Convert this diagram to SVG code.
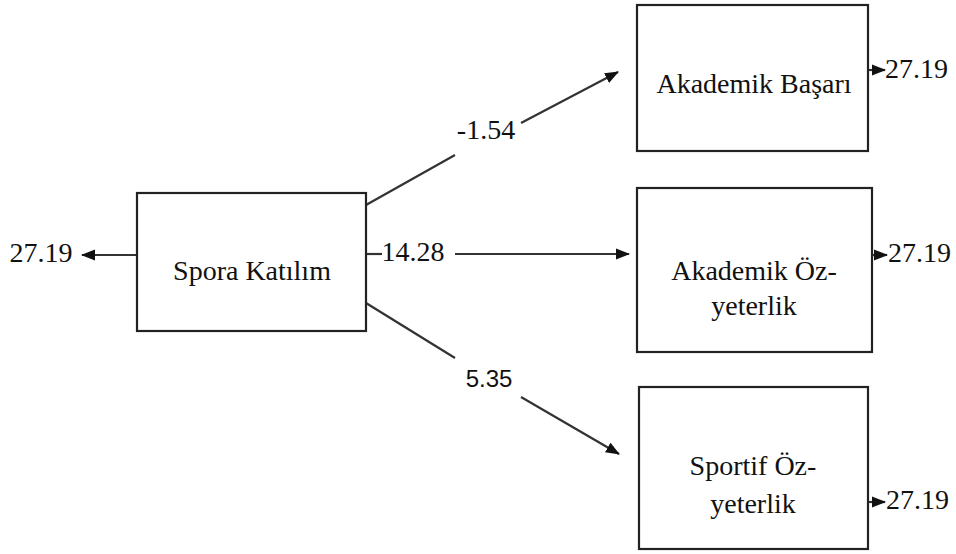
<svg xmlns="http://www.w3.org/2000/svg" width="956" height="554" viewBox="0 0 956 554">
<style>
.box{fill:#fff;stroke:#222;stroke-width:2.2}
.t{font-family:"Liberation Serif","Times New Roman",serif;font-size:28px;fill:#111}
.s{font-family:"Liberation Sans",Arial,sans-serif;font-size:24px;fill:#111}
.c{stroke:#333;stroke-width:2.2;fill:none}
</style>
<defs>
<marker id="ah" markerUnits="userSpaceOnUse" markerWidth="14" markerHeight="12" refX="13" refY="5.5" orient="auto" viewBox="0 0 14 11">
<path d="M0,0 L14,5.5 L0,11 z" fill="#111"/>
</marker>
</defs>
<rect width="956" height="554" fill="#fff"/>
<g id="connectors">
<line class="c" x1="137" y1="255" x2="82" y2="255" marker-end="url(#ah)"/>
<line class="c" x1="366" y1="205" x2="455" y2="155"/>
<line class="c" x1="521" y1="123" x2="618" y2="72" marker-end="url(#ah)"/>
<line class="c" x1="366" y1="254" x2="382" y2="254"/>
<line class="c" x1="455" y1="254" x2="629" y2="254" marker-end="url(#ah)"/>
<line class="c" x1="366" y1="303" x2="455" y2="358"/>
<line class="c" x1="521" y1="397" x2="619" y2="454" marker-end="url(#ah)"/>
<line class="c" x1="868" y1="70" x2="885" y2="70" marker-end="url(#ah)"/>
<line class="c" x1="872" y1="255" x2="887" y2="255" marker-end="url(#ah)"/>
<line class="c" x1="868" y1="502" x2="885" y2="502" marker-end="url(#ah)"/>
<text class="t" x="486" y="139" text-anchor="middle">-1.54</text>
<text class="t" x="413" y="261" text-anchor="middle">14.28</text>
<text class="s" x="489" y="387" text-anchor="middle">5.35</text>
<text class="t" x="41" y="262" text-anchor="middle">27.19</text>
<text class="t" x="885" y="78">27.19</text>
<text class="t" x="888" y="262">27.19</text>
<text class="t" x="886" y="509">27.19</text>
</g>
<g id="spora">
<rect class="box" x="137" y="193" width="229" height="138"/>
<text class="t" x="252" y="280" text-anchor="middle">Spora Katılım</text>
</g>
<g id="akademik-basari">
<rect class="box" x="637" y="5" width="231" height="146"/>
<text class="t" x="754" y="93" text-anchor="middle">Akademik Başarı</text>
</g>
<g id="akademik-oz">
<rect class="box" x="637" y="188" width="235" height="164"/>
<text class="t" x="754" y="280" text-anchor="middle">Akademik Öz-</text>
<text class="t" x="754" y="315" text-anchor="middle">yeterlik</text>
</g>
<g id="sportif-oz">
<rect class="box" x="639" y="387" width="229" height="162"/>
<text class="t" x="753" y="475" text-anchor="middle">Sportif Öz-</text>
<text class="t" x="753" y="513" text-anchor="middle">yeterlik</text>
</g>
</svg>
